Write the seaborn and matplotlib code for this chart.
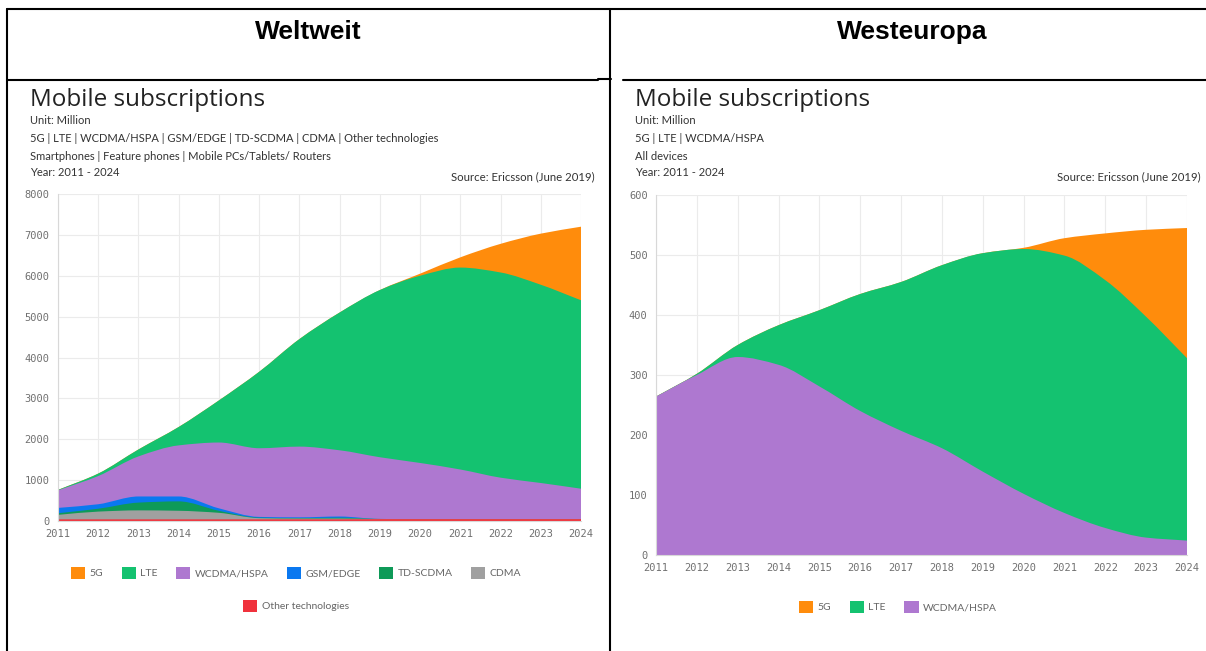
import numpy as np
import matplotlib
matplotlib.use("Agg")
import matplotlib.pyplot as plt
import seaborn as sns
from matplotlib.path import Path
from matplotlib.patches import PathPatch, Patch
from matplotlib.lines import Line2D

# ---- data (million subscriptions) ----
years = list(range(2011, 2025))

labels_ww = ['5G', 'LTE', 'WCDMA/HSPA', 'GSM/EDGE', 'TD-SCDMA', 'CDMA', 'Other technologies']
ww_5g    = [0, 0, 0, 0, 0, 0, 0, 0, 0, 50, 250, 700, 1250, 1800]
ww_lte   = [10, 60, 170, 450, 1030, 1870, 2630, 3370, 4090, 4580, 4940, 5020, 4850, 4610]
ww_wcdma = [430, 690, 980, 1250, 1610, 1680, 1730, 1620, 1510, 1375, 1215, 1015, 885, 745]
ww_gsm   = [130, 110, 150, 120, 60, 20, 20, 30, 0, 0, 0, 0, 0, 0]
ww_td    = [40, 70, 190, 230, 50, 10, 10, 20, 0, 0, 0, 0, 0, 0]
ww_cdma  = [110, 190, 220, 210, 160, 30, 20, 20, 5, 0, 0, 0, 0, 0]
ww_other = [40, 40, 40, 40, 40, 40, 40, 40, 45, 45, 45, 45, 45, 45]

labels_we = ['5G', 'LTE', 'WCDMA/HSPA']
we_5g    = [0, 0, 0, 0, 0, 0, 0, 0, 0, 2, 29, 78, 145, 217]
we_lte   = [0, 2, 20, 66, 127, 195, 248, 305, 364, 408, 429, 413, 368, 304]
we_wcdma = [264, 300, 330, 317, 281, 240, 207, 178, 139, 102, 70, 45, 29, 24]

colors = sns.color_palette(['#ff8c0c', '#14c270', '#ae78d0', '#0a78f0',
                            '#0e9a58', '#a0a0a0', '#f0323c'])

# ---- style ----
sns.set_theme(style='whitegrid')
plt.rcParams.update({
    'font.family': ['Lato', 'DejaVu Sans'],
    'axes.edgecolor': '#d0d0d0',
    'grid.color': '#ebebeb',
    'grid.linewidth': 0.8,
})

W, H = 1206, 651
fig = plt.figure(figsize=(W / 100, H / 100), dpi=100)


def fx(px):
    return px / W


def fy(py):
    return 1 - py / H


def smooth_area(ax, xs, ys, color):
    # monotone cubic bezier from 0 up to the stacked top line
    xs = np.asarray(xs, float)
    ys = np.asarray(ys, float)
    n = len(xs)
    h = np.diff(xs)
    d = np.diff(ys) / h
    m = np.zeros(n)
    m[0], m[-1] = d[0], d[-1]
    for i in range(1, n - 1):
        if d[i - 1] * d[i] > 0:
            m[i] = 3 * (h[i - 1] + h[i]) / ((2 * h[i] + h[i - 1]) / d[i - 1] + (h[i] + 2 * h[i - 1]) / d[i])
    verts = [(xs[0], 0), (xs[0], ys[0])]
    codes = [Path.MOVETO, Path.LINETO]
    for i in range(n - 1):
        verts += [(xs[i] + h[i] / 3, ys[i] + m[i] * h[i] / 3),
                  (xs[i + 1] - h[i] / 3, ys[i + 1] - m[i + 1] * h[i] / 3),
                  (xs[i + 1], ys[i + 1])]
        codes += [Path.CURVE4] * 3
    verts += [(xs[-1], 0), (xs[0], 0)]
    codes += [Path.LINETO, Path.CLOSEPOLY]
    ax.add_patch(PathPatch(Path(verts, codes), facecolor=color, edgecolor='none', zorder=2))


def draw_chart(rect, series, cols, ymax, ystep):
    ax = fig.add_axes(rect)
    tops = np.cumsum(np.array(series[::-1]), axis=0)[::-1]   # tops[0] = total
    for top, c in zip(tops, cols):
        smooth_area(ax, years, top, c)
    ax.set_xlim(years[0], years[-1])
    ax.set_ylim(0, ymax)
    ax.set_xticks(years)
    ax.set_yticks(np.arange(0, ymax + 1, ystep))
    ax.set_axisbelow(True)
    ax.grid(True, color='#ebebeb', linewidth=0.8)
    for s in ['top', 'right']:
        ax.spines[s].set_visible(False)
    for s in ['left', 'bottom']:
        ax.spines[s].set_color('#d8d8d8')
        ax.spines[s].set_linewidth(0.8)
    ax.tick_params(axis='both', length=4, width=0.8, color='#d0d0d0',
                   labelsize=7.5, labelcolor='#707070', pad=2)
    for lab in ax.get_xticklabels() + ax.get_yticklabels():
        lab.set_family('DejaVu Sans Mono')
    ax.set_facecolor('white')
    return ax


ax1 = draw_chart([fx(58), fy(521), fx(581) - fx(58), fy(194) - fy(521)],
                 [ww_5g, ww_lte, ww_wcdma, ww_gsm, ww_td, ww_cdma, ww_other],
                 colors, 8000, 1000)
ax2 = draw_chart([fx(656), fy(555), fx(1187) - fx(656), fy(195) - fy(555)],
                 [we_5g, we_lte, we_wcdma], colors[:3], 600, 100)

# ---- titles and notes ----
txt = '#333333'
panels = [
    (30, 595, ['Unit: Million',
               '5G | LTE | WCDMA/HSPA | GSM/EDGE | TD-SCDMA | CDMA | Other technologies',
               'Smartphones | Feature phones | Mobile PCs/Tablets/ Routers',
               'Year: 2011 - 2024']),
    (635, 1201, ['Unit: Million', '5G | LTE | WCDMA/HSPA', 'All devices', 'Year: 2011 - 2024']),
]
for left, right, lines in panels:
    fig.text(fx(left), fy(100.5), 'Mobile subscriptions', fontsize=17.5, color='#222222',
             va='center', ha='left', family=['Open Sans', 'DejaVu Sans'])
    for yy, line in zip([121, 139, 156, 172], lines):
        fig.text(fx(left), fy(yy), line, fontsize=8, color=txt, va='center', ha='left')
    fig.text(fx(right), fy(177), 'Source: Ericsson (June 2019)', fontsize=8.2,
             color=txt, va='center', ha='right')

fig.text(fx(308), fy(32), 'Weltweit', fontsize=19, fontweight='bold',
         family='Liberation Sans', ha='center', va='center', color='black')
fig.text(fx(912), fy(32), 'Westeuropa', fontsize=19, fontweight='bold',
         family='Liberation Sans', ha='center', va='center', color='black')

# ---- legends ----
leg_kw = dict(loc='center', frameon=False, fontsize=7.5, handlelength=1.35,
              handleheight=1.35, handletextpad=0.4, columnspacing=1.8,
              labelcolor='#666666')
handles = [Patch(facecolor=c, edgecolor='none') for c in colors]
fig.legend(handles[:6], labels_ww[:6], ncol=6, bbox_to_anchor=(fx(296), fy(573)), **leg_kw)
fig.legend(handles[6:], labels_ww[6:], ncol=1, bbox_to_anchor=(fx(296), fy(606)), **leg_kw)
fig.legend(handles[:3], labels_we, ncol=3, bbox_to_anchor=(fx(898), fy(607)), **leg_kw)

# ---- table frame ----
frame = [((7, 1206), (9, 9)), ((7, 7), (9, 651)), ((610, 610), (9, 651)),
         ((7, 598), (80, 80)), ((598, 611), (79, 79)), ((623, 1206), (80, 80))]
for xs_, ys_ in frame:
    fig.add_artist(Line2D([fx(v) for v in xs_], [fy(v) for v in ys_],
                          color='black', linewidth=1.5))

fig.savefig('out.png', dpi=100)
